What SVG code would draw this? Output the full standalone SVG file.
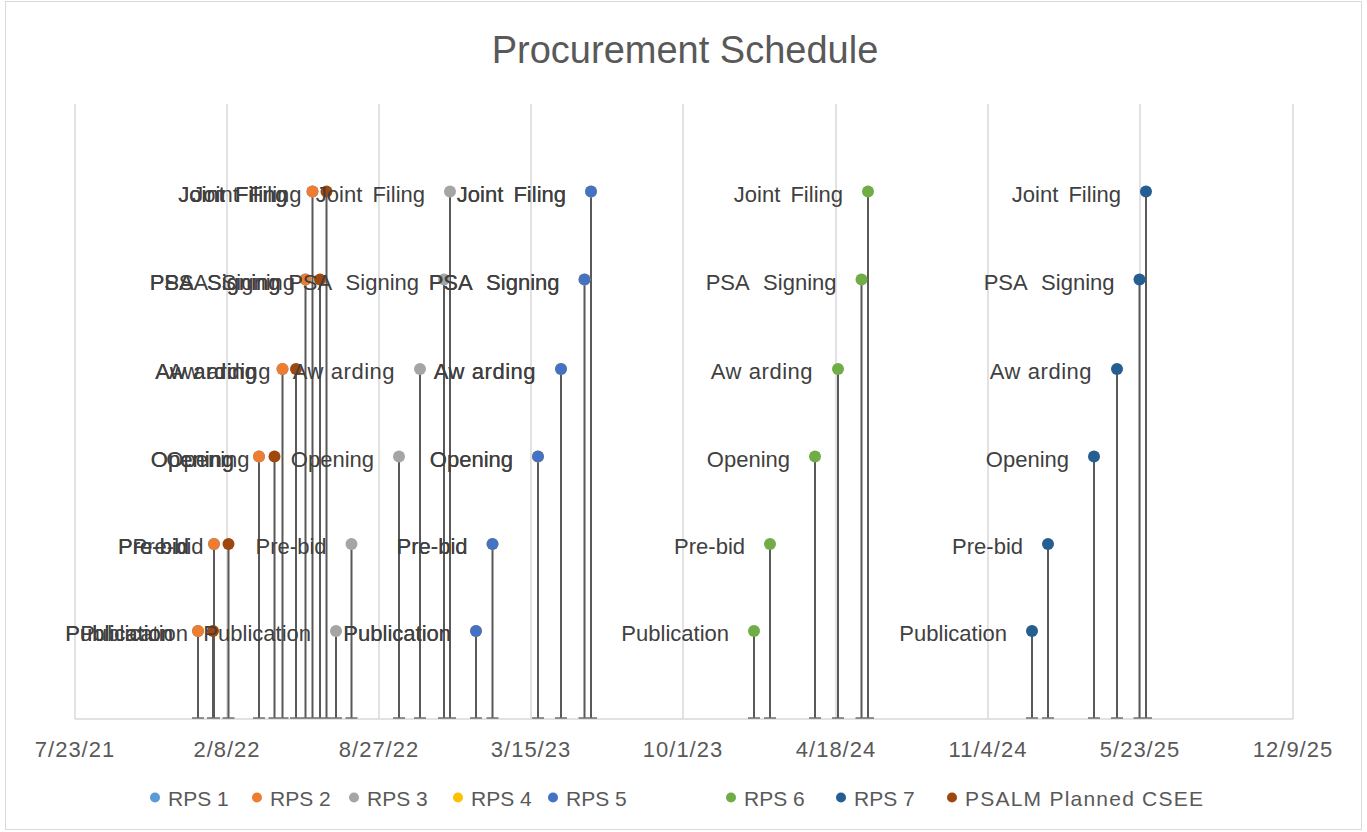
<svg xmlns="http://www.w3.org/2000/svg" width="1367" height="832" viewBox="0 0 1367 832">
<style>
.grid{stroke:#d9d9d9;stroke-width:1.5;fill:none}
.drop{stroke:#595959;stroke-width:2;fill:none}
.cap{stroke:#6f6f6f;stroke-width:1.5;fill:none}
.lbl{font-family:"Liberation Sans",Arial,sans-serif;font-size:22px;fill:#404040;text-anchor:end}
.jf{word-spacing:4px}
.psa{word-spacing:8.5px}
.aw{letter-spacing:0.5px}
.ax{font-family:"Liberation Sans",Arial,sans-serif;font-size:22px;letter-spacing:1px;fill:#595959;text-anchor:middle}
.leg{font-family:"Liberation Sans",Arial,sans-serif;font-size:21px;fill:#595959}
.title{font-family:"Liberation Sans",Arial,sans-serif;font-size:38px;fill:#595959;text-anchor:middle}
.s1{fill:#5b9bd5}.s2{fill:#ed7d31}.s3{fill:#a5a5a5}.s4{fill:#ffc000}.s5{fill:#4472c4}.s6{fill:#70ad47}.s7{fill:#255e91}.s8{fill:#9e480e}
</style>
<rect x="0" y="0" width="1367" height="832" fill="#ffffff"/>
<rect x="5.5" y="1.5" width="1356" height="828" fill="none" stroke="#d9d9d9" stroke-width="1"/>
<text class="title" x="685" y="63">Procurement Schedule</text>
<g id="gridlines">
<path class="grid" d="M75,104V719M227,104V719M379,104V719M531,104V719M683,104V719M836,104V719M988,104V719M1140,104V719M1293,104V719"/>
<path class="grid" d="M75,719H1293"/>
</g>
<g id="axis-labels">
<text class="ax" x="75" y="757">7/23/21</text>
<text class="ax" x="227" y="757">2/8/22</text>
<text class="ax" x="379" y="757">8/27/22</text>
<text class="ax" x="531" y="757">3/15/23</text>
<text class="ax" x="683" y="757">10/1/23</text>
<text class="ax" x="836" y="757">4/18/24</text>
<text class="ax" x="988" y="757">11/4/24</text>
<text class="ax" x="1140" y="757">5/23/25</text>
<text class="ax" x="1293" y="757">12/9/25</text>
</g>
<g id="connectors">
<path class="drop" d="M198,631V718M214,544V718M259,456.5V718M282.5,369V718M305.5,279.5V718M312.5,191.5V718"/>
<path class="drop" d="M213,631V718M228.5,544V718M274.5,456.5V718M296,369V718M320,279.5V718M326.5,191.5V718"/>
<path class="drop" d="M336,631V718M351.5,544V718M399,456.5V718M420,369V718M444,279.5V718M450,191.5V718"/>
<path class="drop" d="M476,631V718M492.5,544V718M538,456.5V718M561,369V718M584.5,279.5V718M591,191.5V718"/>
<path class="drop" d="M754,631V718M770,544V718M815,456.5V718M838,369V718M861.5,279.5V718M868,191.5V718"/>
<path class="drop" d="M1032,631V718M1048,544V718M1094,456.5V718M1117,369V718M1139.5,279.5V718M1146,191.5V718"/>
<path class="cap" d="M192,718h12M208,718h12M253,718h12M276.5,718h12M299.5,718h12M306.5,718h12M207,718h12M222.5,718h12M268.5,718h12M290,718h12M314,718h12M320.5,718h12M330,718h12M345.5,718h12M393,718h12M414,718h12M438,718h12M444,718h12M470,718h12M486.5,718h12M532,718h12M555,718h12M578.5,718h12M585,718h12M748,718h12M764,718h12M809,718h12M832,718h12M855.5,718h12M862,718h12M1026,718h12M1042,718h12M1088,718h12M1111,718h12M1133.5,718h12M1140,718h12"/>
</g>
<g id="markers">
<g id="rps1-markers" class="s1"><circle cx="198" cy="631" r="6"/><circle cx="214" cy="544" r="6"/><circle cx="259" cy="456.5" r="6"/><circle cx="282.5" cy="369" r="6"/><circle cx="305.5" cy="279.5" r="6"/><circle cx="312.5" cy="191.5" r="6"/></g>
<g id="rps2-markers" class="s2"><circle cx="198" cy="631" r="6"/><circle cx="214" cy="544" r="6"/><circle cx="259" cy="456.5" r="6"/><circle cx="282.5" cy="369" r="6"/><circle cx="305.5" cy="279.5" r="6"/><circle cx="312.5" cy="191.5" r="6"/></g>
<g id="rps3-markers" class="s3"><circle cx="336" cy="631" r="6"/><circle cx="351.5" cy="544" r="6"/><circle cx="399" cy="456.5" r="6"/><circle cx="420" cy="369" r="6"/><circle cx="444" cy="279.5" r="6"/><circle cx="450" cy="191.5" r="6"/></g>
<g id="rps4-markers" class="s4"><circle cx="476" cy="631" r="6"/><circle cx="492.5" cy="544" r="6"/><circle cx="538" cy="456.5" r="6"/><circle cx="561" cy="369" r="6"/><circle cx="584.5" cy="279.5" r="6"/><circle cx="591" cy="191.5" r="6"/></g>
<g id="rps5-markers" class="s5"><circle cx="476" cy="631" r="6"/><circle cx="492.5" cy="544" r="6"/><circle cx="538" cy="456.5" r="6"/><circle cx="561" cy="369" r="6"/><circle cx="584.5" cy="279.5" r="6"/><circle cx="591" cy="191.5" r="6"/></g>
<g id="rps6-markers" class="s6"><circle cx="754" cy="631" r="6"/><circle cx="770" cy="544" r="6"/><circle cx="815" cy="456.5" r="6"/><circle cx="838" cy="369" r="6"/><circle cx="861.5" cy="279.5" r="6"/><circle cx="868" cy="191.5" r="6"/></g>
<g id="rps7-markers" class="s7"><circle cx="1032" cy="631" r="6"/><circle cx="1048" cy="544" r="6"/><circle cx="1094" cy="456.5" r="6"/><circle cx="1117" cy="369" r="6"/><circle cx="1139.5" cy="279.5" r="6"/><circle cx="1146" cy="191.5" r="6"/></g>
<g id="psalm-markers" class="s8"><circle cx="213" cy="631" r="6"/><circle cx="228.5" cy="544" r="6"/><circle cx="274.5" cy="456.5" r="6"/><circle cx="296" cy="369" r="6"/><circle cx="320" cy="279.5" r="6"/><circle cx="326.5" cy="191.5" r="6"/></g>
</g>
<g id="labels">
<g id="rps1-labels"><text class="lbl" x="173" y="641">Publication</text><text class="lbl" x="189" y="554">Pre-bid</text><text class="lbl" x="234" y="466.5">Opening</text><text class="lbl aw" x="257.5" y="379">Aw<tspan dx="7">arding</tspan></text><text class="lbl psa" x="280.5" y="289.5">PSA Signing</text><text class="lbl jf" x="287.5" y="201.5">Joint Filing</text></g>
<g id="rps2-labels"><text class="lbl" x="173" y="641">Publication</text><text class="lbl" x="189" y="554">Pre-bid</text><text class="lbl" x="234" y="466.5">Opening</text><text class="lbl aw" x="257.5" y="379">Aw<tspan dx="7">arding</tspan></text><text class="lbl psa" x="280.5" y="289.5">PSA Signing</text><text class="lbl jf" x="287.5" y="201.5">Joint Filing</text></g>
<g id="rps3-labels"><text class="lbl" x="311" y="641">Publication</text><text class="lbl" x="326.5" y="554">Pre-bid</text><text class="lbl" x="374" y="466.5">Opening</text><text class="lbl aw" x="395" y="379">Aw<tspan dx="7">arding</tspan></text><text class="lbl psa" x="419" y="289.5">PSA Signing</text><text class="lbl jf" x="425" y="201.5">Joint Filing</text></g>
<g id="rps4-labels"><text class="lbl" x="451" y="641">Publication</text><text class="lbl" x="467.5" y="554">Pre-bid</text><text class="lbl" x="513" y="466.5">Opening</text><text class="lbl aw" x="536" y="379">Aw<tspan dx="7">arding</tspan></text><text class="lbl psa" x="559.5" y="289.5">PSA Signing</text><text class="lbl jf" x="566" y="201.5">Joint Filing</text></g>
<g id="rps5-labels"><text class="lbl" x="451" y="641">Publication</text><text class="lbl" x="467.5" y="554">Pre-bid</text><text class="lbl" x="513" y="466.5">Opening</text><text class="lbl aw" x="536" y="379">Aw<tspan dx="7">arding</tspan></text><text class="lbl psa" x="559.5" y="289.5">PSA Signing</text><text class="lbl jf" x="566" y="201.5">Joint Filing</text></g>
<g id="rps6-labels"><text class="lbl" x="729" y="641">Publication</text><text class="lbl" x="745" y="554">Pre-bid</text><text class="lbl" x="790" y="466.5">Opening</text><text class="lbl aw" x="813" y="379">Aw<tspan dx="7">arding</tspan></text><text class="lbl psa" x="836.5" y="289.5">PSA Signing</text><text class="lbl jf" x="843" y="201.5">Joint Filing</text></g>
<g id="rps7-labels"><text class="lbl" x="1007" y="641">Publication</text><text class="lbl" x="1023" y="554">Pre-bid</text><text class="lbl" x="1069" y="466.5">Opening</text><text class="lbl aw" x="1092" y="379">Aw<tspan dx="7">arding</tspan></text><text class="lbl psa" x="1114.5" y="289.5">PSA Signing</text><text class="lbl jf" x="1121" y="201.5">Joint Filing</text></g>
<g id="psalm-labels"><text class="lbl" x="188" y="641">Publication</text><text class="lbl" x="203.5" y="554">Pre-bid</text><text class="lbl" x="249.5" y="466.5">Opening</text><text class="lbl aw" x="271" y="379">Aw<tspan dx="7">arding</tspan></text><text class="lbl psa" x="295" y="289.5">PSA Signing</text><text class="lbl jf" x="301.5" y="201.5">Joint Filing</text></g>
</g>
<g id="legend">
<g id="legend-rps1"><circle class="s1" cx="155" cy="797.5" r="5"/><text class="leg" x="168" y="806">RPS 1</text></g>
<g id="legend-rps2"><circle class="s2" cx="257" cy="797.5" r="5"/><text class="leg" x="270" y="806">RPS 2</text></g>
<g id="legend-rps3"><circle class="s3" cx="354" cy="797.5" r="5"/><text class="leg" x="367" y="806">RPS 3</text></g>
<g id="legend-rps4"><circle class="s4" cx="458" cy="797.5" r="5"/><text class="leg" x="471" y="806">RPS 4</text></g>
<g id="legend-rps5"><circle class="s5" cx="553" cy="797.5" r="5"/><text class="leg" x="566" y="806">RPS 5</text></g>
<g id="legend-rps6"><circle class="s6" cx="731" cy="797.5" r="5"/><text class="leg" x="744" y="806">RPS 6</text></g>
<g id="legend-rps7"><circle class="s7" cx="841" cy="797.5" r="5"/><text class="leg" x="854" y="806">RPS 7</text></g>
<g id="legend-psalm"><circle class="s8" cx="952" cy="797.5" r="5"/><text class="leg" x="965" y="806" textLength="238" lengthAdjust="spacing">PSALM Planned CSEE</text></g>
</g>
</svg>
